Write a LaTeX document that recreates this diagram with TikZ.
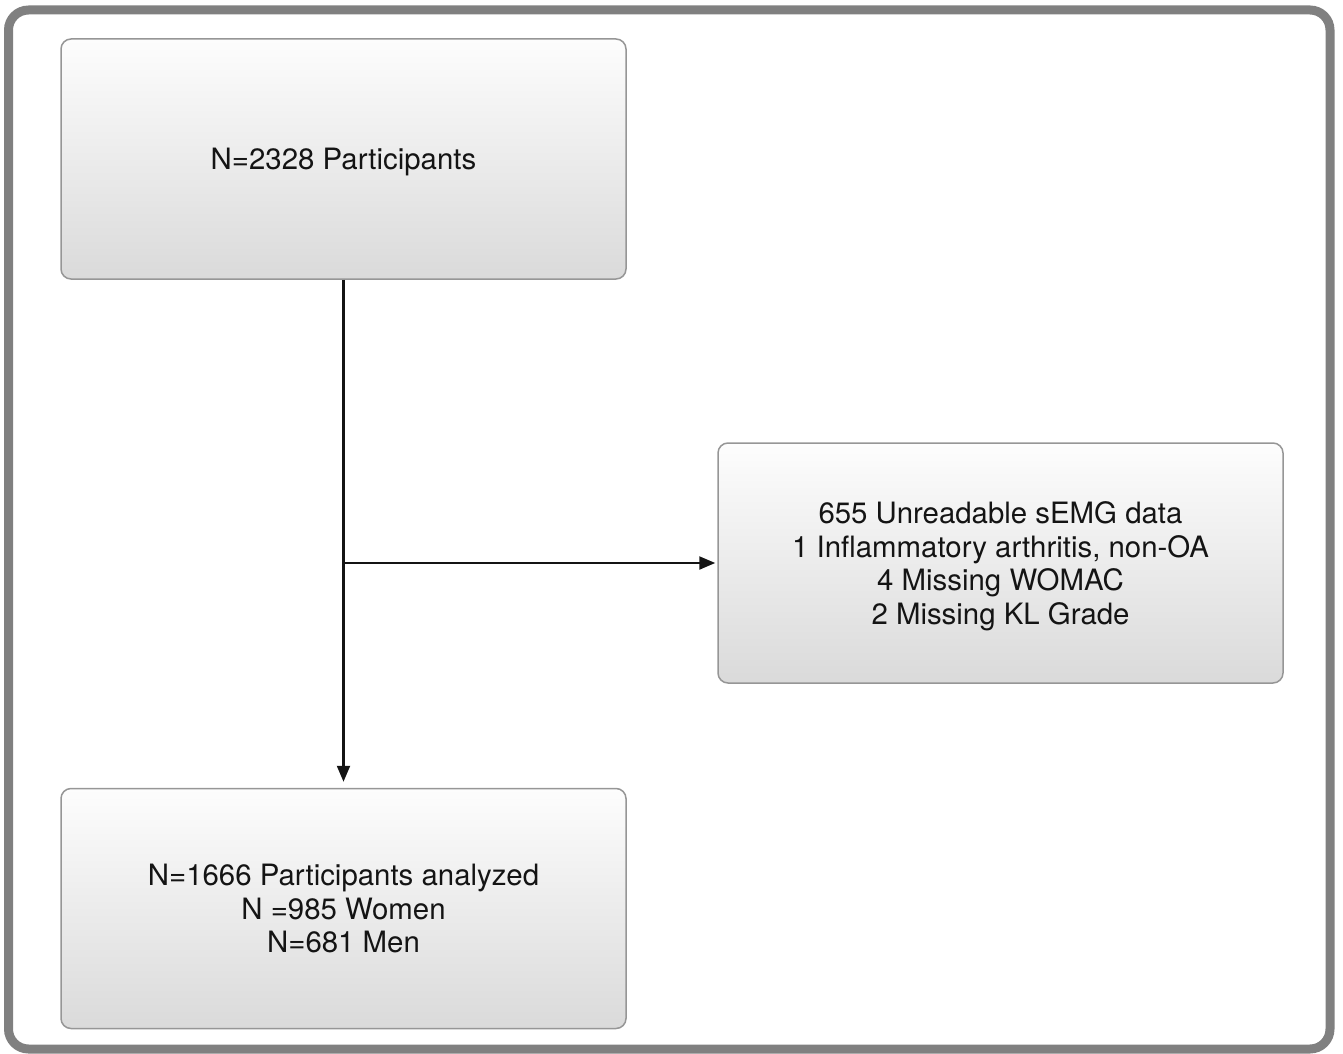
\documentclass[tikz,border=0pt]{standalone}
\usepackage{fontspec}
\setmainfont{TeX Gyre Heros}
\usetikzlibrary{arrows.meta}
\definecolor{framegray}{RGB}{128,128,128}
\definecolor{boxedge}{RGB}{150,150,150}
\definecolor{shadetop}{RGB}{253,253,253}
\definecolor{shadebot}{RGB}{218,218,218}
\definecolor{ink}{RGB}{20,20,20}
\begin{document}
\begin{tikzpicture}[x=1pt,y=-1pt,
  box/.style={draw=boxedge, line width=1.5pt, rounded corners=10pt,
    top color=shadetop, bottom color=shadebot, minimum width=565pt, minimum height=240pt,
    align=center, text=ink, font=\fontsize{29.4}{33.7}\selectfont, inner sep=0pt, text depth=0pt},
  arrowline/.style={draw=ink, line width=2.2pt, -{Triangle[length=16pt,width=13pt]}}]
\useasboundingbox (0,0) rectangle (1343,1054);
\draw[line width=9pt, framegray, rounded corners=20pt] (8.5,10) rectangle (1330,1049);
\node[box] (top) at (343.5,159) {N=2328 Participants};
\node[box] (excl) at (1000.5,563) {655 Unreadable sEMG data\\1 Inflammatory arthritis, non-OA\\4 Missing WOMAC\\2 Missing KL Grade};
\node[box] (bot) at (343.5,908.5) {N=1666 Participants analyzed\\N =985 Women\\N=681 Men};
\coordinate (junc) at (top.south |- excl.west);
\draw[arrowline, shorten >=6pt] (top.south) -- (bot.north);
\draw[arrowline, shorten >=2pt] (junc) -- (excl.west);
\end{tikzpicture}
\end{document}
